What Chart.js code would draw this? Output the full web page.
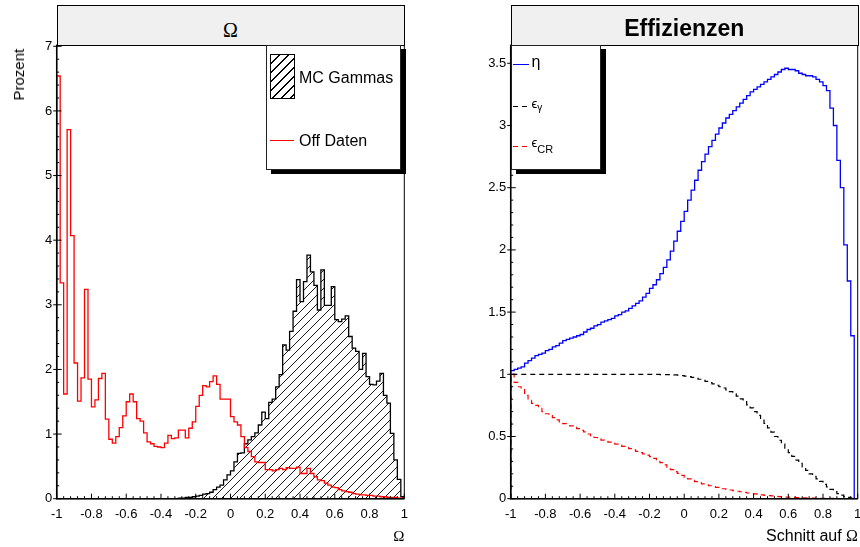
<!DOCTYPE html>
<html>
<head>
<meta charset="utf-8">
<script src="https://cdn.jsdelivr.net/npm/chart.js@4.4.1/dist/chart.umd.min.js"></script>
<style>
    html, body { margin: 0; padding: 0; background: #fff; }
    body { position: relative; width: 860px; height: 547px; overflow: hidden; font-family: "Liberation Sans", Arial, sans-serif; color: #000; }
    canvas { position: absolute; top: 0; }
    #chartLeft { left: 0; }
    #chartRight { left: 430px; }
    .box { position: absolute; box-sizing: border-box; }
    .titlebox { top: 5px; height: 41px; background: #f0f0f0; border: 1px solid #000; }
    .legend { top: 45px; height: 124.5px; background: #fff; border: 1px solid #222; box-shadow: 5px 4px 0 #000; }
    .txt { position: absolute; line-height: 1; white-space: nowrap; }
    .serif { font-family: "Liberation Serif", "Times New Roman", serif; }
</style>
</head>
<body>
<canvas id="chartLeft" width="430" height="547"></canvas>
<canvas id="chartRight" width="450" height="547"></canvas>

<!-- Titelboxen -->
<div class="box titlebox" style="left:56.5px; width:348.5px;"></div>
<div class="box titlebox" style="left:510.5px; width:348px;"></div>
<div class="txt serif" style="left:56.5px; width:348px; text-align:center; top:20px; font-size:20px;">Ω</div>
<div class="txt" style="left:510.5px; width:347.5px; text-align:center; top:17.2px; font-size:23px; font-weight:bold;">Effizienzen</div>

<!-- Achsentitel -->
<div class="txt" style="left:0; top:0; transform-origin:0 0; transform:translate(11px,100.5px) rotate(-90deg); font-size:15px; line-height:16px;">Prozent</div>
<div class="txt serif" style="right:455.7px; top:529px; font-size:15px;">Ω</div>
<div class="txt" style="right:2px; top:528.2px; font-size:16px;">Schnitt auf <span class="serif">Ω</span></div>

<!-- Legende links -->
<div class="box legend" style="left:265.5px; width:135px;"></div>
<div class="box" style="left:270px; top:54px; width:24.5px; height:44.5px; border:1px solid #000; background:repeating-linear-gradient(135deg, transparent 0 5.4px, #000 5.4px 6.4px);"></div>
<div class="txt" style="left:299px; top:69.6px; font-size:16px;">MC Gammas</div>
<div class="box" style="left:270px; top:140px; width:24px; height:1.4px; background:#ff0000;"></div>
<div class="txt" style="left:299px; top:133.2px; font-size:16px;">Off Daten</div>

<!-- Legende rechts -->
<div class="box legend" style="left:510.5px; width:90.5px;"></div>
<div class="box" style="left:512.7px; top:63.7px; width:16.5px; height:1.4px; background:#0000ff;"></div>
<div class="txt" style="left:531.5px; top:53.5px; font-size:16px;">η</div>
<div class="box" style="left:512.7px; top:106px; width:16.5px; height:1.4px; background:repeating-linear-gradient(90deg, #000 0 5px, transparent 5px 9px);"></div>
<div class="txt" style="left:531.5px; top:97.3px; font-size:13px;">ϵ<span style="font-size:10px; position:relative; top:3px;">γ</span></div>
<div class="box" style="left:512.7px; top:146px; width:16.5px; height:1.4px; background:repeating-linear-gradient(90deg, #ff0000 0 5px, transparent 5px 9px);"></div>
<div class="txt" style="left:531.5px; top:135.7px; font-size:13px;">ϵ<span style="font-size:11px; position:relative; top:6.5px;">CR</span></div>

<script>
// Binning: 100 Bins von -1 bis 1
const xMin = -1;
const xMax = 1;

const xTicks = [-1, -0.8, -0.6, -0.4, -0.2, 0, 0.2, 0.4, 0.6, 0.8, 1];
const xTickLabels = ["-1", "-0.8", "-0.6", "-0.4", "-0.2", "0", "0.2", "0.4", "0.6", "0.8", "1"];
const yTicksLeft = [0, 1, 2, 3, 4, 5, 6, 7];
const yTickLabelsLeft = ["0", "1", "2", "3", "4", "5", "6", "7"];
const yTicksRight = [0, 0.5, 1, 1.5, 2, 2.5, 3, 3.5];
const yTickLabelsRight = ["0", "0.5", "1", "1.5", "2", "2.5", "3", "3.5"];

// Omega-Verteilung, Off Daten (Prozent pro Bin)
const offDaten = [
    6.54, 3.34, 1.62, 5.71, 4.07, 2.10, 1.51, 1.87, 3.24, 1.85,
    1.42, 1.53, 1.86, 1.94, 1.23, 0.92, 0.86, 0.96, 1.10, 1.28,
    1.50, 1.62, 1.50, 1.24, 1.20, 1.02, 0.88, 0.85, 0.81, 0.80,
    0.79, 0.86, 0.98, 0.93, 0.94, 1.06, 1.06, 0.94, 1.09, 1.19,
    1.43, 1.60, 1.75, 1.73, 1.81, 1.90, 1.77, 1.54, 1.54, 1.54,
    1.27, 1.19, 1.14, 0.96, 0.79, 0.73, 0.65, 0.57, 0.56, 0.56,
    0.45, 0.45, 0.43, 0.45, 0.47, 0.45, 0.48, 0.47, 0.47, 0.49,
    0.39, 0.39, 0.47, 0.39, 0.34, 0.29, 0.28, 0.24, 0.21, 0.18,
    0.17, 0.14, 0.12, 0.11, 0.10, 0.08, 0.07, 0.06, 0.06, 0.05,
    0.05, 0.04, 0.04, 0.03, 0.03, 0.02, 0.02, 0.02, 0.01, 0.01
];

// Omega-Verteilung, MC Gammas
const mcGammas = [
    0, 0, 0, 0, 0, 0, 0, 0, 0, 0,
    0, 0, 0, 0, 0, 0, 0, 0, 0, 0,
    0, 0, 0, 0, 0, 0, 0, 0, 0, 0,
    0, 0, 0, 0, 0, 0.01, 0.01, 0.02, 0.02, 0.03,
    0.04, 0.05, 0.07, 0.08, 0.10, 0.14, 0.18, 0.21, 0.29, 0.37,
    0.43, 0.57, 0.70, 0.71, 0.85, 0.91, 0.96, 1.02, 1.14, 1.34,
    1.24, 1.49, 1.54, 1.73, 1.92, 2.38, 2.30, 2.59, 2.90, 3.39,
    3.05, 3.36, 3.77, 3.51, 3.30, 2.92, 3.54, 2.99, 2.99, 3.28,
    2.77, 2.74, 2.78, 2.83, 2.51, 2.33, 2.28, 2.00, 2.25, 1.89,
    1.77, 1.76, 1.82, 1.94, 1.60, 1.48, 1.01, 0.60, 0.30, 0.03
];

// Effizienzen in Abhaengigkeit vom Schnitt
const eta = [
    1.03, 1.04, 1.05, 1.06, 1.09, 1.11, 1.13, 1.15, 1.16, 1.17,
    1.19, 1.20, 1.22, 1.23, 1.25, 1.27, 1.28, 1.29, 1.30, 1.31,
    1.32, 1.34, 1.36, 1.37, 1.39, 1.40, 1.42, 1.43, 1.44, 1.45,
    1.47, 1.48, 1.50, 1.51, 1.53, 1.55, 1.57, 1.59, 1.62, 1.65,
    1.69, 1.72, 1.76, 1.81, 1.86, 1.92, 1.99, 2.07, 2.15, 2.23,
    2.31, 2.40, 2.48, 2.56, 2.64, 2.71, 2.77, 2.83, 2.88, 2.93,
    2.98, 3.02, 3.06, 3.09, 3.12, 3.15, 3.18, 3.21, 3.24, 3.27,
    3.29, 3.31, 3.33, 3.35, 3.37, 3.39, 3.41, 3.43, 3.45, 3.46,
    3.45, 3.45, 3.44, 3.42, 3.41, 3.40, 3.40, 3.39, 3.37, 3.35,
    3.32, 3.28, 3.14, 3.00, 2.72, 2.50, 2.04, 1.75, 1.31, 0
];

const effGamma = [
    1, 1, 1, 1, 1, 1, 1, 1, 1, 1,
    1, 1, 1, 1, 1, 1, 1, 1, 1, 1,
    1, 1, 1, 1, 1, 1, 1, 1, 1, 1,
    1, 1, 1, 1, 1, 1, 1, 1, 1, 1,
    1, 0.999, 0.999, 0.998, 0.998, 0.997, 0.996, 0.995, 0.993, 0.99,
    0.986, 0.981, 0.975, 0.968, 0.96, 0.952, 0.943, 0.933, 0.923, 0.912,
    0.90, 0.89, 0.875, 0.86, 0.843, 0.825, 0.803, 0.78, 0.755, 0.73,
    0.70, 0.67, 0.64, 0.605, 0.57, 0.535, 0.50, 0.47, 0.44, 0.40,
    0.37, 0.34, 0.31, 0.285, 0.255, 0.228, 0.20, 0.18, 0.16, 0.14,
    0.115, 0.095, 0.075, 0.058, 0.04, 0.028, 0.016, 0.01, 0.004, 0
];

const effCR = [
    1.0, 0.935, 0.90, 0.885, 0.83, 0.79, 0.766, 0.75, 0.733, 0.70,
    0.683, 0.667, 0.652, 0.633, 0.615, 0.603, 0.594, 0.585, 0.575, 0.563,
    0.55, 0.537, 0.52, 0.505, 0.492, 0.481, 0.471, 0.462, 0.454, 0.446,
    0.438, 0.43, 0.421, 0.412, 0.402, 0.392, 0.381, 0.371, 0.361, 0.35,
    0.338, 0.324, 0.308, 0.29, 0.272, 0.253, 0.234, 0.218, 0.203, 0.188,
    0.172, 0.16, 0.148, 0.137, 0.127, 0.119, 0.111, 0.104, 0.097, 0.091,
    0.086, 0.08, 0.075, 0.07, 0.065, 0.06, 0.056, 0.051, 0.046, 0.042,
    0.038, 0.034, 0.031, 0.027, 0.024, 0.022, 0.019, 0.017, 0.015, 0.013,
    0.012, 0.010, 0.009, 0.008, 0.007, 0.006, 0.005, 0.004, 0.004, 0.003,
    0.003, 0.002, 0.002, 0.002, 0.001, 0.001, 0.001, 0, 0, 0
];

Chart.defaults.font.family = "'Liberation Sans', Arial, sans-serif";
Chart.defaults.font.size = 13;
Chart.defaults.color = "#000";

// Histogramm als Treppenlinie: linker Binrand -> Wert, am Ende wieder auf 0
function histPoints(values) {
    const w = (xMax - xMin) / values.length;
    const pts = [{ x: xMin, y: 0 }];
    values.forEach((v, i) => pts.push({ x: xMin + i * w, y: v }));
    pts.push({ x: xMax, y: values[values.length - 1] });
    pts.push({ x: xMax, y: 0 });
    return pts;
}

// Rahmen und Ticks nach innen wie bei ROOT
const frameTicks = {
    id: "frameTicks",
    afterDatasetsDraw(chart, args, opts) {
        const ctx = chart.ctx;
        const a = chart.chartArea;
        const sx = chart.scales.x;
        const sy = chart.scales.y;
        ctx.save();
        ctx.strokeStyle = "#000";
        ctx.lineWidth = 1;
        ctx.strokeRect(a.left, a.top, a.right - a.left, a.bottom - a.top);
        ctx.lineWidth = 1.5;
        ctx.beginPath();
        ctx.moveTo(a.left, a.top);
        ctx.lineTo(a.left, a.bottom);
        ctx.lineTo(a.right, a.bottom);
        ctx.stroke();

        ctx.lineWidth = 1;
        ctx.beginPath();
        const nx = Math.round((xMax - xMin) / (opts.xStep / 5));
        for (let i = 0; i <= nx; i++) {
            const px = sx.getPixelForValue(xMin + i * opts.xStep / 5);
            const len = i % 5 === 0 ? 5 : 2.5;
            ctx.moveTo(px, a.bottom);
            ctx.lineTo(px, a.bottom - len);
        }
        const ny = Math.floor(sy.max / (opts.yStep / 5) + 1e-6);
        for (let i = 0; i <= ny; i++) {
            const py = sy.getPixelForValue(i * opts.yStep / 5);
            if (i % 5 === 0) {
                ctx.moveTo(a.left - 3.5, py);
                ctx.lineTo(a.left + 5, py);
            } else {
                ctx.moveTo(a.left, py);
                ctx.lineTo(a.left + 2.5, py);
            }
        }
        ctx.stroke();
        ctx.restore();
    }
};

function makeScales(yMax, yTicks, yLabels, yWidth) {
    return {
        x: {
            type: "linear",
            min: xMin,
            max: xMax,
            grid: { display: false, drawTicks: false },
            border: { display: false },
            afterBuildTicks: (s) => { s.ticks = xTicks.map((v) => ({ value: v })); },
            afterFit: (s) => { s.height = 22; },
            ticks: { autoSkip: false, maxRotation: 0, minRotation: 0, padding: 8, callback: (v, i) => xTickLabels[i] }
        },
        y: {
            type: "linear",
            min: 0,
            max: yMax,
            grid: { display: false, drawTicks: false },
            border: { display: false },
            afterBuildTicks: (s) => { s.ticks = yTicks.map((v) => ({ value: v })); },
            afterFit: (s) => { s.width = yWidth; },
            ticks: { autoSkip: false, padding: 4.5, callback: (v, i) => yLabels[i] }
        }
    };
}

// Schraffur fuer MC Gammas
const hatchCanvas = document.createElement("canvas");
hatchCanvas.width = 9;
hatchCanvas.height = 9;
const hctx = hatchCanvas.getContext("2d");
hctx.strokeStyle = "#000";
hctx.lineWidth = 0.9;
hctx.beginPath();
hctx.moveTo(-1, 10); hctx.lineTo(10, -1);
hctx.moveTo(-1, 1); hctx.lineTo(1, -1);
hctx.moveTo(8, 10); hctx.lineTo(10, 8);
hctx.stroke();

const leftCtx = document.getElementById("chartLeft").getContext("2d");
const hatch = leftCtx.createPattern(hatchCanvas, "repeat");

new Chart(leftCtx, {
    type: "line",
    data: {
        datasets: [
            {
                label: "Off Daten",
                data: histPoints(offDaten),
                borderColor: "#ff0000",
                borderWidth: 1.3,
                stepped: true,
                pointRadius: 0,
                fill: false
            },
            {
                label: "MC Gammas",
                data: histPoints(mcGammas),
                borderColor: "#000",
                borderWidth: 1.3,
                backgroundColor: hatch,
                stepped: true,
                pointRadius: 0,
                fill: "origin"
            }
        ]
    },
    options: {
        responsive: false,
        animation: false,
        layout: { padding: { left: 0, top: 45, right: 25.7, bottom: 26.3 } },
        scales: makeScales(7.02, yTicksLeft, yTickLabelsLeft, 56.7),
        plugins: {
            legend: { display: false },
            tooltip: { enabled: false },
            frameTicks: { xStep: 0.2, yStep: 1 }
        }
    },
    plugins: [frameTicks]
});

new Chart(document.getElementById("chartRight"), {
    type: "line",
    data: {
        datasets: [
            {
                label: "eta",
                data: histPoints(eta),
                borderColor: "#0000ff",
                borderWidth: 1.3,
                stepped: true,
                pointRadius: 0,
                fill: false
            },
            {
                label: "eps_gamma",
                data: histPoints(effGamma),
                borderColor: "#000",
                borderWidth: 1.2,
                borderDash: [5, 4],
                stepped: true,
                pointRadius: 0,
                fill: false
            },
            {
                label: "eps_CR",
                data: histPoints(effCR),
                borderColor: "#ff0000",
                borderWidth: 1.2,
                borderDash: [5, 4],
                stepped: true,
                pointRadius: 0,
                fill: false
            }
        ]
    },
    options: {
        responsive: false,
        animation: false,
        layout: { padding: { left: 0, top: 45, right: 22.3, bottom: 26.3 } },
        scales: makeScales(3.647, yTicksRight, yTickLabelsRight, 80.7),
        plugins: {
            legend: { display: false },
            tooltip: { enabled: false },
            frameTicks: { xStep: 0.2, yStep: 0.5 }
        }
    },
    plugins: [frameTicks]
});
</script>
</body>
</html>
